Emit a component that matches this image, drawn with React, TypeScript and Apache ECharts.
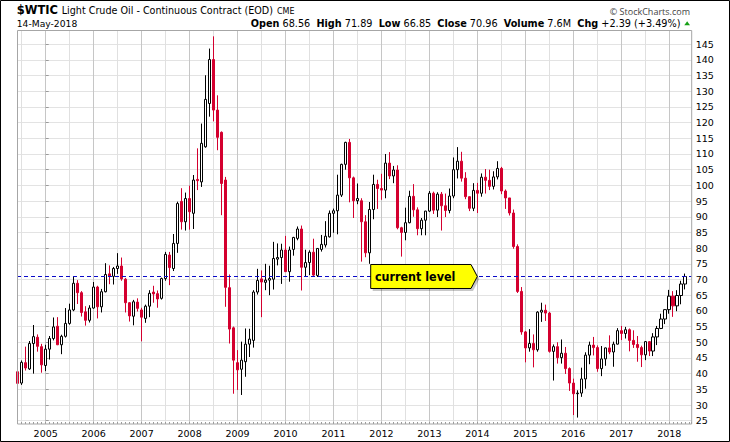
import React, { useEffect, useRef } from 'react';
import * as echarts from 'echarts';

// ---------- categories (monthly bars) ----------
const MONTHS: string[] = [
  '2004-06', '2004-07', '2004-08', '2004-09', '2004-10', '2004-11', '2004-12',
  '2005-01', '2005-02', '2005-03', '2005-04', '2005-05', '2005-06', '2005-07', '2005-08', '2005-09', '2005-10', '2005-11', '2005-12',
  '2006-01', '2006-02', '2006-03', '2006-04', '2006-05', '2006-06', '2006-07', '2006-08', '2006-09', '2006-10', '2006-11', '2006-12',
  '2007-01', '2007-02', '2007-03', '2007-04', '2007-05', '2007-06', '2007-07', '2007-08', '2007-09', '2007-10', '2007-11', '2007-12',
  '2008-01', '2008-02', '2008-03', '2008-04', '2008-05', '2008-06', '2008-07', '2008-08', '2008-09', '2008-10', '2008-11', '2008-12',
  '2009-01', '2009-02', '2009-03', '2009-04', '2009-05', '2009-06', '2009-07', '2009-08', '2009-09', '2009-10', '2009-11', '2009-12',
  '2010-01', '2010-02', '2010-03', '2010-04', '2010-05', '2010-06', '2010-07', '2010-08', '2010-09', '2010-10', '2010-11', '2010-12',
  '2011-01', '2011-02', '2011-03', '2011-04', '2011-05', '2011-06', '2011-07', '2011-08', '2011-09', '2011-10', '2011-11', '2011-12',
  '2012-01', '2012-02', '2012-03', '2012-04', '2012-05', '2012-06', '2012-07', '2012-08', '2012-09', '2012-10', '2012-11', '2012-12',
  '2013-01', '2013-02', '2013-03', '2013-04', '2013-05', '2013-06', '2013-07', '2013-08', '2013-09', '2013-10', '2013-11', '2013-12',
  '2014-01', '2014-02', '2014-03', '2014-04', '2014-05', '2014-06', '2014-07', '2014-08', '2014-09', '2014-10', '2014-11', '2014-12',
  '2015-01', '2015-02', '2015-03', '2015-04', '2015-05', '2015-06', '2015-07', '2015-08', '2015-09', '2015-10', '2015-11', '2015-12',
  '2016-01', '2016-02', '2016-03', '2016-04', '2016-05', '2016-06', '2016-07', '2016-08', '2016-09', '2016-10', '2016-11', '2016-12',
  '2017-01', '2017-02', '2017-03', '2017-04', '2017-05', '2017-06', '2017-07', '2017-08', '2017-09', '2017-10', '2017-11', '2017-12',
  '2018-01', '2018-02', '2018-03', '2018-04', '2018-05',
];

// ---------- series values ----------
const OPEN: number[] = [
  40.6, 37.0, 43.5, 41.5, 49.6, 51.6, 48.6,
  42.6, 47.8, 51.2, 55.1, 49.2, 51.9, 56.0, 60.3, 68.8, 65.8, 59.7, 57.0,
  60.9, 67.6, 61.3, 66.1, 71.8, 71.0, 73.5, 74.3, 70.1, 62.6, 58.3, 62.8,
  60.3, 57.6, 61.5, 66.0, 65.5, 64.0, 70.3, 77.8, 73.5, 81.5, 94.9, 88.4,
  95.8, 91.1, 101.9, 101.1, 112.3, 126.1, 140.1, 124.0, 116.9, 101.7, 67.4, 54.6,
  43.5, 41.4, 43.8, 49.4, 50.6, 66.0, 70.2, 69.1, 69.8, 70.1, 76.5, 77.0,
  79.4, 72.5, 79.6, 83.1, 86.1, 73.9, 75.4, 78.7, 71.3, 79.6, 81.0, 83.6,
  91.1, 91.9, 96.9, 106.7, 113.7, 102.4, 95.1, 95.1, 88.4, 78.5, 92.3, 100.3,
  99.0, 98.5, 107.1, 103.0, 104.9, 86.5, 85.0, 88.1, 96.5, 92.2, 86.2, 88.9,
  91.8, 97.5, 92.1, 97.2, 93.5, 92.0, 96.6, 105.0, 107.7, 102.3, 96.4, 92.7,
  98.4, 97.5, 102.6, 101.6, 99.7, 102.7, 105.4, 98.2, 96.0, 91.2, 80.5, 66.2,
  53.3, 48.2, 49.6, 47.6, 59.6, 60.2, 59.3, 47.1, 48.6, 45.1, 46.5, 41.6,
  37.0, 33.6, 33.8, 38.3, 45.9, 49.1, 48.3, 41.6, 44.7, 48.2, 46.9, 49.4,
  53.7, 52.8, 54.0, 50.6, 49.3, 48.3, 46.0, 50.2, 47.2, 51.7, 54.4, 57.4,
  60.4, 64.7, 61.6, 64.9, 68.56,
];
const HIGH: number[] = [
  41.0, 44.2, 48.6, 50.4, 55.5, 52.5, 49.5,
  49.2, 52.0, 57.9, 58.0, 52.4, 60.9, 62.3, 70.8, 69.8, 66.3, 61.5, 61.8,
  69.2, 68.0, 67.0, 75.2, 74.5, 74.0, 78.4, 77.0, 70.5, 62.8, 63.5, 64.0,
  61.0, 62.0, 66.6, 68.0, 66.5, 70.6, 78.8, 78.8, 84.5, 94.8, 99.1, 97.7,
  99.9, 103.3, 111.8, 119.7, 135.1, 143.6, 147.5, 128.7, 117.2, 102.7, 71.6, 55.0,
  47.5, 50.2, 54.4, 54.3, 66.6, 73.4, 72.9, 75.0, 74.4, 82.0, 81.5, 81.4,
  83.9, 80.5, 83.6, 86.9, 87.2, 79.5, 79.3, 83.0, 80.0, 84.2, 88.6, 92.0,
  92.6, 103.4, 106.9, 113.9, 114.8, 102.8, 100.6, 95.9, 90.5, 94.7, 103.4, 101.8,
  103.7, 110.0, 110.6, 106.2, 106.4, 86.8, 92.9, 98.3, 100.4, 93.0, 89.6, 91.9,
  98.2, 98.0, 97.8, 97.9, 97.4, 99.0, 108.9, 112.2, 110.7, 104.2, 96.5, 100.7,
  100.8, 103.8, 105.2, 105.0, 104.5, 107.7, 105.9, 98.7, 96.0, 92.3, 81.2, 67.6,
  53.6, 54.2, 52.5, 59.9, 62.6, 62.0, 59.7, 49.3, 50.0, 50.9, 48.5, 42.0,
  38.4, 34.7, 41.9, 46.8, 50.2, 51.7, 49.0, 48.8, 48.3, 52.2, 50.2, 54.5,
  55.2, 54.9, 54.4, 53.8, 52.0, 48.9, 50.4, 50.4, 52.9, 55.2, 59.1, 60.5,
  66.7, 66.3, 66.6, 69.6, 71.89,
];
const LOW: number[] = [
  35.9, 36.4, 41.0, 41.2, 40.0, 47.0, 40.3,
  40.8, 44.5, 50.6, 49.1, 46.2, 51.5, 55.6, 59.9, 62.2, 58.2, 55.3, 56.3,
  60.7, 57.6, 59.5, 65.9, 68.5, 68.4, 71.8, 69.6, 59.5, 56.6, 55.4, 59.8,
  50.3, 56.2, 58.0, 62.6, 61.0, 63.6, 69.6, 68.2, 72.7, 78.5, 85.9, 85.6,
  85.9, 86.1, 98.5, 99.5, 112.0, 121.9, 120.4, 111.2, 90.5, 61.3, 49.6, 33.6,
  34.8, 33.2, 39.0, 45.3, 48.3, 65.2, 58.0, 66.6, 65.0, 66.8, 74.5, 68.6,
  72.4, 69.3, 77.6, 82.5, 66.5, 70.9, 71.4, 70.8, 70.8, 78.9, 80.2, 83.4,
  84.9, 84.4, 96.3, 105.0, 94.6, 89.6, 94.0, 75.7, 77.1, 75.0, 89.2, 92.5,
  95.4, 95.9, 102.0, 100.7, 86.0, 77.3, 82.5, 87.9, 90.0, 84.1, 84.1, 84.1,
  91.5, 90.9, 89.9, 85.6, 89.9, 91.1, 95.9, 102.2, 101.2, 95.6, 91.8, 91.8,
  91.2, 96.4, 97.4, 98.5, 98.7, 101.9, 97.2, 92.5, 90.4, 79.8, 65.7, 52.4,
  43.6, 47.0, 42.0, 47.0, 56.5, 56.8, 46.7, 37.8, 43.2, 43.2, 39.9, 34.5,
  26.8, 26.0, 32.6, 35.2, 43.0, 45.8, 40.6, 39.2, 42.5, 46.2, 42.2, 49.3,
  50.7, 51.2, 47.1, 48.2, 43.8, 42.1, 44.3, 45.6, 45.6, 49.1, 54.2, 55.8,
  59.1, 58.1, 59.9, 62.1, 66.85,
];
const CLOSE: number[] = [
  36.9, 43.6, 41.8, 49.6, 51.8, 48.7, 42.8,
  47.8, 51.2, 54.9, 49.2, 51.9, 56.0, 60.3, 68.8, 65.8, 59.5, 57.0, 60.9,
  67.6, 61.3, 66.1, 71.6, 71.0, 73.5, 74.3, 70.2, 62.6, 58.4, 62.9, 60.8,
  58.0, 61.5, 65.6, 65.4, 63.8, 70.3, 78.0, 73.8, 81.5, 94.2, 88.4, 95.8,
  91.6, 101.7, 101.5, 113.4, 127.4, 140.1, 124.0, 115.3, 100.6, 67.5, 54.2, 44.3,
  41.2, 44.3, 49.4, 51.0, 66.0, 69.7, 69.2, 69.8, 70.3, 76.7, 77.0, 79.4,
  72.5, 79.4, 83.4, 86.1, 73.9, 75.4, 78.7, 71.4, 79.9, 81.2, 83.8, 91.1,
  91.9, 96.9, 106.7, 113.7, 102.4, 95.1, 95.8, 88.4, 78.5, 92.3, 100.3, 99.0,
  98.5, 107.1, 103.0, 104.9, 86.5, 85.0, 88.1, 96.5, 92.2, 86.2, 88.9, 91.8,
  97.5, 92.1, 97.2, 93.5, 92.0, 96.6, 105.0, 107.7, 102.3, 96.4, 92.7, 98.4,
  97.5, 102.6, 101.6, 99.7, 102.7, 105.4, 98.2, 96.0, 91.2, 80.5, 66.2, 53.3,
  48.2, 49.6, 47.6, 59.6, 60.2, 59.3, 47.1, 48.6, 45.1, 46.5, 41.6, 37.0,
  33.6, 33.8, 38.3, 45.9, 49.1, 48.3, 41.6, 44.7, 48.2, 46.9, 49.4, 53.7,
  52.8, 54.0, 50.6, 49.3, 48.3, 46.0, 50.2, 47.2, 51.7, 54.4, 57.4, 60.4,
  64.7, 61.6, 64.9, 68.57, 70.96,
];

// ---------- tick labels & texts ----------
const YEAR_LABELS: string[] = ['2005', '2006', '2007', '2008', '2009', '2010', '2011', '2012', '2013', '2014', '2015', '2016', '2017', '2018'];
const FIRST_LABEL_YEAR = 2005;
const SYMBOL = '$WTIC';
const TITLE = 'Light Crude Oil - Continuous Contract (EOD)';
const EXCHANGE = 'CME';
const DATE_TEXT = '14-May-2018';
const VOLUME_TEXT = '7.6M';
const COPYRIGHT = '\u00A9 StockCharts.com';
const CALLOUT_TEXT = 'current level';

const FONT = "'DejaVu Sans', Verdana, sans-serif";
const RED = '#d4002f';

function monthNumber(label: string): number {
  const [y, m] = label.split('-').map(Number);
  return (y - FIRST_LABEL_YEAR) * 12 + (m - 1);
}

export default function App() {
  const ref = useRef<HTMLDivElement>(null);

  useEffect(() => {
    const chart = echarts.init(ref.current as HTMLDivElement, null, { renderer: 'svg' });
    const last = CLOSE.length - 1;
    const current = CLOSE[last];
    const chg = CLOSE[last] - CLOSE[last - 1];
    const pct = (chg / CLOSE[last - 1]) * 100;
    const data = MONTHS.map((m, i) => [monthNumber(m), OPEN[i], CLOSE[i], LOW[i], HIGH[i]]);

    const GL = 17, GT = 31, GW = 674.7, GH = 393;
    const X_MIN = -7.18, X_MAX = 161.62;

    const baseX = { type: 'value', min: X_MIN, max: X_MAX, gridIndex: 0 };

    chart.setOption({
      animation: false,
      backgroundColor: '#ffffff',
      textStyle: { fontFamily: FONT },
      grid: { left: GL, top: GT, width: GW, height: GH, show: false, containLabel: false, outerBoundsMode: 'none' },
      xAxis: [
        {
          ...baseX, position: 'top', minInterval: 6, maxInterval: 6,
          axisLine: { show: false }, axisTick: { show: false }, axisLabel: { show: false },
          splitLine: { show: true, showMinLine: false, showMaxLine: false, lineStyle: { color: '#e0e0e0', width: 1 } },
        },
        {
          ...baseX, position: 'bottom', minInterval: 12, maxInterval: 12,
          axisLine: { show: false }, axisTick: { show: false },
          axisLabel: {
            show: true, margin: 4.5, color: '#000', fontSize: 9.5, fontFamily: FONT,
            formatter: (v: number) => {
              const k = Math.round(v / 12);
              return Math.abs(v - k * 12) < 1e-6 && YEAR_LABELS[k] ? YEAR_LABELS[k] : '';
            },
          },
          splitLine: { show: true, showMinLine: false, showMaxLine: false, lineStyle: { color: '#c6c6c6', width: 1 } },
        },
        {
          ...baseX, position: 'bottom', minInterval: 1, maxInterval: 1,
          axisLine: { show: false },
          axisTick: { show: true, inside: true, length: 2, lineStyle: { color: '#9a9a9a', width: 1 } },
          axisLabel: { show: false }, splitLine: { show: false },
        },
      ],
      yAxis: {
        type: 'value', position: 'right', min: 23.95, max: 149.2, splitNumber: 25, minInterval: 5, maxInterval: 5,
        axisLine: { show: false },
        axisTick: { show: true, length: 3, lineStyle: { color: '#9a9a9a' } },
        axisLabel: {
          margin: 4, color: '#000', fontSize: 9.5, fontFamily: FONT, showMinLabel: false, showMaxLabel: false,
          formatter: (v: number) => (Math.abs(v / 5 - Math.round(v / 5)) < 1e-6 ? String(Math.round(v)) : ''),
        },
        splitLine: { show: true, showMinLine: false, showMaxLine: false, lineStyle: { color: '#e3e3e3', width: 1 } },
      },
      series: [
        {
          type: 'candlestick', xAxisIndex: 1, yAxisIndex: 0, data, barWidth: 3, clip: true, silent: true,
          itemStyle: { color: '#ffffff', color0: RED, borderColor: '#000000', borderColor0: RED, borderWidth: 1 },
          markLine: {
            silent: true, symbol: ['none', 'none'], label: { show: false },
            lineStyle: { color: '#0a0ac8', width: 1, type: [4, 3] },
            data: [{ yAxis: current }],
          },
        },
      ],
    });

    const yPix = chart.convertToPixel({ yAxisIndex: 0 }, current) as number;
    const cl = 370.7, cr = 471, tip = 477.3, half = 12;
    const pts = [[cl, yPix - half], [cr, yPix - half], [tip, yPix], [cr, yPix + half], [cl, yPix + half]];

    chart.setOption({
      graphic: [
        // plot frame
        { type: 'rect', z: 5, silent: true, shape: { x: GL + 0.5, y: GT - 0.5, width: GW - 0.5, height: GH + 0.5 }, style: { fill: 'none', stroke: '#a6a6a6', lineWidth: 1 } },
        // outer border
        { type: 'rect', z: 20, silent: true, shape: { x: 0.5, y: 0.5, width: 729, height: 441 }, style: { fill: 'none', stroke: '#000', lineWidth: 1 } },
        // header line 1
        { type: 'text', z: 10, x: 16.7, y: 10, style: { text: SYMBOL, fontFamily: FONT, fontSize: 11.5, fontWeight: 'bold', fill: '#000', verticalAlign: 'middle', align: 'left' } },
        { type: 'text', z: 10, x: 61.7, y: 10.7, style: { text: TITLE, fontFamily: FONT, fontSize: 9.6, fill: '#000', verticalAlign: 'middle', align: 'left' } },
        { type: 'text', z: 10, x: 277, y: 11.2, style: { text: EXCHANGE, fontFamily: FONT, fontSize: 8, fill: '#000', verticalAlign: 'middle', align: 'left' } },
        { type: 'text', z: 10, x: 690, y: 11.4, style: { text: COPYRIGHT, fontFamily: "'Open Sans', 'Noto Sans', sans-serif", fontSize: 9, fill: '#444', verticalAlign: 'middle', align: 'right' } },
        // header line 2
        { type: 'text', z: 10, x: 16.7, y: 23.5, style: { text: DATE_TEXT, fontFamily: FONT, fontSize: 9.2, fill: '#000', verticalAlign: 'middle', align: 'left' } },
        {
          type: 'text', z: 10, x: 680.5, y: 23.5,
          style: {
            text:
              `{b|Open} ${OPEN[last].toFixed(2)}  {b|High} ${HIGH[last].toFixed(2)}  {b|Low} ${LOW[last].toFixed(2)}  ` +
              `{b|Close} ${CLOSE[last].toFixed(2)}  {b|Volume} ${VOLUME_TEXT}  {b|Chg} ${chg >= 0 ? '+' : ''}${chg.toFixed(2)} (${pct >= 0 ? '+' : ''}${pct.toFixed(2)}%)`,
            fontFamily: FONT, fontSize: 9.7, fill: '#000', align: 'right', verticalAlign: 'middle',
            rich: { b: { fontFamily: FONT, fontSize: 9.7, fontWeight: 'bold', fill: '#000' } },
          },
        },
        { type: 'polygon', z: 10, silent: true, shape: { points: [[684.3, 25.3], [690, 25.3], [687.15, 21.3]] }, style: { fill: '#15a015' } },
        // callout
        { type: 'polygon', z: 11, silent: true, shape: { points: pts.map(([x, y]) => [x + 2, y + 2.5]) }, style: { fill: 'rgba(0,0,0,0.22)' } },
        { type: 'polygon', z: 12, silent: true, shape: { points: pts }, style: { fill: '#ffff00', stroke: '#000', lineWidth: 1 } },
        { type: 'text', z: 13, x: 375, y: yPix + 0.5, style: { text: CALLOUT_TEXT, fontFamily: "'DejaVu Sans Condensed', 'Liberation Sans', sans-serif", fontSize: 12.4, fontWeight: 'bold', fill: '#000', verticalAlign: 'middle', align: 'left' } },
      ],
    });

    return () => chart.dispose();
  }, []);

  return <div ref={ref} style={{ position: 'absolute', left: 0, top: 0, width: 730, height: 442, background: '#fff' }} />;
}
